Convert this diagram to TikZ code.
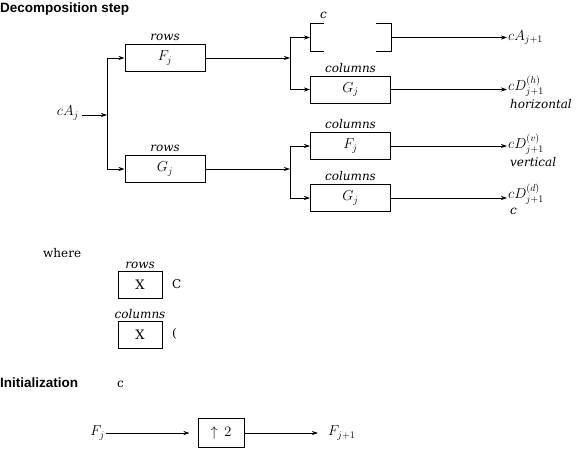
\documentclass[tikz,border=0pt]{standalone}
\usepackage{fontspec}
\setmainfont{DejaVu Serif}
\setsansfont{Liberation Sans}
\usetikzlibrary{arrows.meta}
\begin{document}
\begin{tikzpicture}[x=1pt,y=-1pt,>={Stealth[length=6pt,width=4pt]},
  filter/.style={draw,line width=1pt,minimum width=80pt,minimum height=27pt,inner sep=0pt,font=\fontsize{14}{16}\selectfont},
  keybox/.style={draw,line width=1pt,minimum width=44pt,minimum height=27pt,inner sep=0pt,font=\fontsize{13}{15}\selectfont},
  dirlabel/.style={inner sep=0pt,font=\fontsize{12}{14}\selectfont\itshape},
  sig/.style={inner sep=1pt,font=\fontsize{14}{16}\selectfont},
  plain/.style={inner sep=0pt,font=\fontsize{12}{14}\selectfont},
  wire/.style={->,line width=.7pt},
  heading/.style={anchor=west,inner sep=0pt,font=\fontsize{13.5}{15}\selectfont\sffamily\bfseries}]
\useasboundingbox (0,0) rectangle (583,448);
\node[heading] (decomp) at (0,9) {Decomposition step};
% rows stage
\node[sig,anchor=east] (cAj) at (80,113) {$cA_j$};
\coordinate (split1) at (107,115);
\node[filter] (rowF) at (165,58) {$F_j$};
\node[filter] (rowG) at (165,169) {$G_j$};
\node[dirlabel,above=3pt] (rowFlab) at (rowF.north) {rows};
\node[dirlabel,above=3pt] (rowGlab) at (rowG.north) {rows};
\draw[wire] ([xshift=2pt]cAj.east |- split1) -- (split1);
\draw[wire] (split1) |- (rowF.west);
\draw[wire] (split1) |- (rowG.west);
% columns stage
\coordinate (split2) at (290,58);
\coordinate (split3) at (290,169);
\node[filter,draw=none] (colAF) at (350.5,37.5) {};
\node[filter] (colDhG) at (350.5,89.5) {$G_j$};
\node[filter] (colDvF) at (350.5,146) {$F_j$};
\node[filter] (colDdG) at (350.5,198) {$G_j$};
\draw[line width=1pt] ([xshift=14pt]colAF.north west) -- (colAF.north west) -- (colAF.south west) -- ([xshift=14pt]colAF.south west);
\draw[line width=1pt] ([xshift=-15pt]colAF.north east) -- (colAF.north east) -- (colAF.south east) -- ([xshift=-15pt]colAF.south east);
\node[dirlabel,anchor=south west] (colAFlab) at (320,19) {c};
\node[dirlabel,above=3pt] (colDhlab) at (colDhG.north) {columns};
\node[dirlabel,above=3pt] (colDvlab) at (colDvF.north) {columns};
\node[dirlabel,above=3pt] (colDdlab) at (colDdG.north) {columns};
\draw[wire] (rowF.east) -- (split2);
\draw[wire] (rowG.east) -- (split3);
\draw[wire] (split2) |- (colAF.west);
\draw[wire] (split2) |- (colDhG.west);
\draw[wire] (split3) |- (colDvF.west);
\draw[wire] (split3) |- (colDdG.west);
% outputs
\node[sig,anchor=west] (cAnext) at (507,37.5) {$cA_{j+1}$};
\node[sig,anchor=west] (cDh) at (507,86) {$cD^{(h)}_{j+1}$};
\node[sig,anchor=west] (cDv) at (507,144) {$cD^{(v)}_{j+1}$};
\node[sig,anchor=west] (cDd) at (507,194) {$cD^{(d)}_{j+1}$};
\node[dirlabel,anchor=west] (hlab) at (510,104) {horizontal};
\node[dirlabel,anchor=west] (vlab) at (510,162) {vertical};
\node[dirlabel,anchor=west] (dlab) at (510,211) {c};
\draw[wire] (colAF.east) -- (colAF.east -| cAnext.west);
\draw[wire] (colDhG.east) -- (colDhG.east -| cDh.west);
\draw[wire] (colDvF.east) -- (colDvF.east -| cDv.west);
\draw[wire] (colDdG.east) -- (colDdG.east -| cDd.west);
% key
\node[plain,anchor=west] (where) at (43,253) {where};
\node[keybox] (keyRows) at (140,284.5) {X};
\node[keybox] (keyCols) at (140,334.5) {X};
\node[dirlabel,above=2pt] (keyRowslab) at (keyRows.north) {rows};
\node[dirlabel,above=2pt] (keyColslab) at (keyCols.north) {columns};
\node[plain,anchor=west] (keyRowstxt) at (172,284) {C};
\node[plain,anchor=west] (keyColstxt) at (172,334) {(};
% initialization
\node[heading] (init) at (0,383) {Initialization};
\node[plain,anchor=west] (cAzero) at (117,384) {c};
\node[sig,anchor=east] (Fin) at (106,433) {$F_j$};
\node[filter,minimum width=46pt,minimum height=29pt] (up) at (221,433) {$\uparrow\,2$};
\node[sig,anchor=west] (Fout) at (327,433) {$F_{j+1}$};
\draw[wire] (Fin.east) -- ([xshift=-8pt]up.west);
\draw[wire] (up.east) -- ([xshift=-9pt]Fout.west);
\end{tikzpicture}
\end{document}
